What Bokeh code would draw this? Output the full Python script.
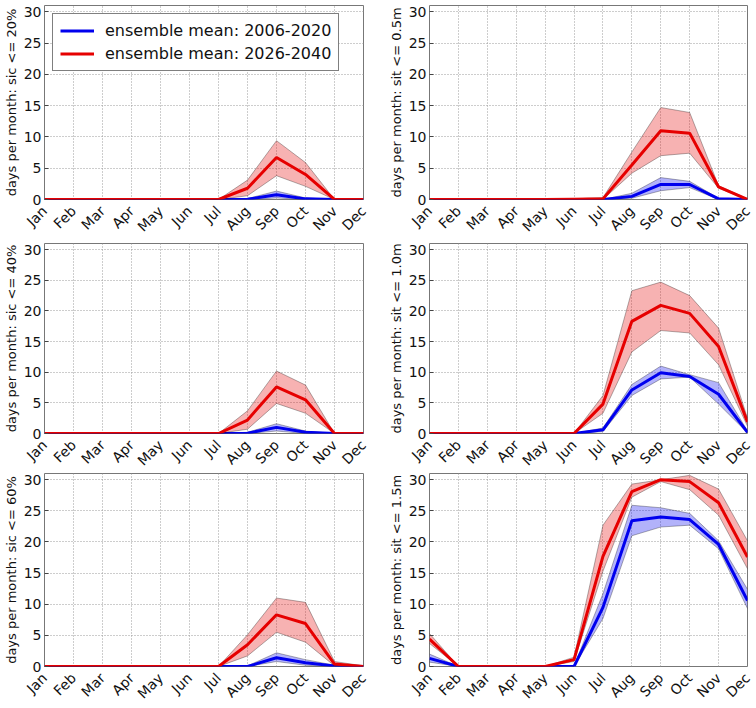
import math
from bokeh.plotting import figure
from bokeh.layouts import column, row
from bokeh.models import Legend, LegendItem, FixedTicker, Range1d
from bokeh.embed import file_html
from bokeh.resources import INLINE

months = ["Jan", "Feb", "Mar", "Apr", "May", "Jun", "Jul", "Aug", "Sep", "Oct", "Nov", "Dec"]
x = list(range(12))
yticks = [0, 5, 10, 15, 20, 25, 30]
label_early = "ensemble mean: 2006-2020"
label_late = "ensemble mean: 2026-2040"

# sic <= 20%
sic20_early_mean = [0, 0, 0, 0, 0, 0, 0, 0.05, 0.75, 0.1, 0, 0]
sic20_early_lo = [0, 0, 0, 0, 0, 0, 0, 0, 0.25, 0, 0, 0]
sic20_early_hi = [0, 0, 0, 0, 0, 0, 0, 0.15, 1.35, 0.25, 0, 0]
sic20_late_mean = [0, 0, 0, 0, 0, 0, 0, 1.8, 6.7, 4.0, 0, 0]
sic20_late_lo = [0, 0, 0, 0, 0, 0, 0, 0.6, 3.8, 2.1, 0, 0]
sic20_late_hi = [0, 0, 0, 0, 0, 0, 0, 3.1, 9.4, 5.9, 0, 0]

# sit <= 0.5m
sit05_early_mean = [0, 0, 0, 0, 0, 0, 0, 0.5, 2.4, 2.4, 0.1, 0]
sit05_early_lo = [0, 0, 0, 0, 0, 0, 0, 0.2, 1.4, 1.9, 0, 0]
sit05_early_hi = [0, 0, 0, 0, 0, 0, 0, 1.0, 3.5, 2.9, 0.2, 0]
sit05_late_mean = [0, 0, 0, 0, 0, 0.05, 0.1, 5.5, 11.0, 10.6, 2.0, 0]
sit05_late_lo = [0, 0, 0, 0, 0, 0, 0, 4.2, 7.0, 7.4, 1.8, 0]
sit05_late_hi = [0, 0, 0, 0, 0, 0.1, 0.3, 7.6, 14.7, 13.9, 2.2, 0.1]

# sic <= 40%
sic40_early_mean = [0, 0, 0, 0, 0, 0, 0, 0.05, 1.0, 0.2, 0, 0]
sic40_early_lo = [0, 0, 0, 0, 0, 0, 0, 0, 0.4, 0, 0, 0]
sic40_early_hi = [0, 0, 0, 0, 0, 0, 0, 0.2, 1.6, 0.4, 0, 0]
sic40_late_mean = [0, 0, 0, 0, 0, 0, 0, 2.2, 7.6, 5.5, 0, 0]
sic40_late_lo = [0, 0, 0, 0, 0, 0, 0, 0.7, 4.9, 3.3, 0, 0]
sic40_late_hi = [0, 0, 0, 0, 0, 0, 0, 3.7, 10.2, 7.9, 0, 0]

# sit <= 1.0m
sit10_early_mean = [0, 0, 0, 0, 0, 0, 0.6, 7.1, 9.9, 9.3, 6.4, 0.2]
sit10_early_lo = [0, 0, 0, 0, 0, 0, 0.3, 6.2, 8.9, 9.2, 4.8, 0.1]
sit10_early_hi = [0, 0, 0, 0, 0, 0, 0.9, 8.0, 11.0, 9.6, 8.3, 0.4]
sit10_late_mean = [0, 0, 0, 0, 0, 0, 4.8, 18.3, 20.9, 19.6, 14.2, 1.9]
sit10_late_lo = [0, 0, 0, 0, 0, 0, 3.3, 13.3, 16.8, 16.4, 11.2, 1.2]
sit10_late_hi = [0, 0, 0, 0, 0, 0, 6.2, 23.3, 24.7, 22.5, 17.2, 2.5]

# sic <= 60%
sic60_early_mean = [0, 0, 0, 0, 0, 0, 0, 0, 1.4, 0.6, 0.1, 0]
sic60_early_lo = [0, 0, 0, 0, 0, 0, 0, 0, 0.8, 0.2, 0, 0]
sic60_early_hi = [0, 0, 0, 0, 0, 0, 0, 0.1, 2.2, 1.1, 0.2, 0]
sic60_late_mean = [0, 0, 0, 0, 0, 0, 0, 3.5, 8.3, 6.9, 0.4, 0]
sic60_late_lo = [0, 0, 0, 0, 0, 0, 0, 1.7, 5.5, 3.9, 0.1, 0]
sic60_late_hi = [0, 0, 0, 0, 0, 0, 0, 5.1, 11.0, 10.3, 0.8, 0.1]

# sit <= 1.5m
sit15_early_mean = [1.3, 0, 0, 0, 0, 0, 9.5, 23.4, 24.0, 23.6, 19.6, 10.6]
sit15_early_lo = [0.7, 0, 0, 0, 0, 0, 7.7, 21.0, 22.4, 22.7, 18.9, 9.3]
sit15_early_hi = [2.0, 0, 0, 0, 0, 0.1, 11.7, 25.9, 25.5, 24.6, 20.2, 12.4]
sit15_late_mean = [4.4, 0, 0, 0, 0, 1.1, 17.7, 28.1, 30.0, 29.7, 26.3, 17.6]
sit15_late_lo = [3.7, 0, 0, 0, 0, 0.8, 15.3, 27.2, 29.7, 28.4, 24.3, 15.7]
sit15_late_hi = [5.3, 0, 0, 0, 0, 1.5, 22.7, 29.3, 30.0, 30.7, 28.5, 20.2]

BLUE = "#0000ee"
RED = "#e60000"
FONT = "DejaVu Sans"


def make_panel(ylabel, early, late, left_col, frame_h, top, legend=False, margin=None):
    if left_col:
        bl, fw, br = 39, 319, 22
    else:
        bl, fw, br = 41, 318, 9
    p = figure(frame_width=fw, frame_height=frame_h, output_backend="svg",
               toolbar_location=None, x_range=Range1d(0, 11), y_range=Range1d(0, 31),
               min_border_left=bl, min_border_right=br, min_border_top=top,
               min_border_bottom=50, background_fill_color="white",
               border_fill_color="white")
    if margin is not None:
        p.margin = margin
    xax = p.xaxis[0]
    p.outline_line_color = "#777777"
    p.outline_line_width = 1
    xax.ticker = FixedTicker(ticks=x)
    xax.major_label_overrides = {i: m for i, m in enumerate(months)}
    xax.major_label_orientation = math.pi / 4
    xax.major_label_text_align = "right"
    xax.major_label_text_baseline = "top"
    xax.major_tick_line_color = None
    xax.major_label_standoff = 3
    p.yaxis.ticker = FixedTicker(ticks=yticks)
    p.yaxis.major_tick_in = 4
    p.yaxis.major_tick_out = 0
    p.yaxis.major_tick_line_color = "#444444"
    p.yaxis.major_label_standoff = 3
    for ax in (xax, p.yaxis[0]):
        ax.axis_line_color = None
        ax.minor_tick_line_color = None
        ax.major_label_text_font = FONT
        ax.major_label_text_font_size = "14px"
        ax.major_label_text_color = "#111111"
    p.yaxis.axis_label = ylabel
    p.yaxis.axis_label_text_font = FONT
    p.yaxis.axis_label_text_font_size = "13px"
    p.yaxis.axis_label_text_font_style = "normal"
    p.yaxis.axis_label_text_color = "#111111"
    p.yaxis.axis_label_standoff = 2
    for g in (p.xgrid, p.ygrid):
        g.grid_line_color = "#9a9a9a"
        g.grid_line_dash = "1 2"
        g.grid_line_width = 1
    rends = []
    for (mean, lo, hi), col in ((early, BLUE), (late, RED)):
        p.varea(x=x, y1=lo, y2=hi, fill_color=col, fill_alpha=0.3)
        p.line(x=x, y=hi, line_color="black", line_alpha=0.3, line_width=1)
        p.line(x=x, y=lo, line_color="black", line_alpha=0.3, line_width=1)
        r = p.line(x=x, y=mean, line_color=col, line_width=3)
        rends.append(r)
    if legend:
        lg = Legend(items=[LegendItem(label=label_early, renderers=[rends[0]]),
                           LegendItem(label=label_late, renderers=[rends[1]])],
                    location="top_left", margin=8, padding=7, spacing=4,
                    glyph_width=34, glyph_height=19, label_height=19,
                    label_standoff=11, label_text_font=FONT,
                    label_text_font_size="16px", label_text_color="#111111",
                    border_line_color="black", border_line_width=1,
                    background_fill_color="white", background_fill_alpha=1)
        p.add_layout(lg, "center")
    return p


mid_margin = (-9, 0, 0, 0)
low_margin = (-13, 0, -24, 0)

p1 = make_panel("days per month: sic <= 20%",
                (sic20_early_mean, sic20_early_lo, sic20_early_hi),
                (sic20_late_mean, sic20_late_lo, sic20_late_hi), True, 194, 5, legend=True)
p2 = make_panel("days per month: sit <= 0.5m",
                (sit05_early_mean, sit05_early_lo, sit05_early_hi),
                (sit05_late_mean, sit05_late_lo, sit05_late_hi), False, 194, 5)
p3 = make_panel("days per month: sic <= 40%",
                (sic40_early_mean, sic40_early_lo, sic40_early_hi),
                (sic40_late_mean, sic40_late_lo, sic40_late_hi), True, 190, 3, margin=mid_margin)
p4 = make_panel("days per month: sit <= 1.0m",
                (sit10_early_mean, sit10_early_lo, sit10_early_hi),
                (sit10_late_mean, sit10_late_lo, sit10_late_hi), False, 190, 3, margin=mid_margin)
p5 = make_panel("days per month: sic <= 60%",
                (sic60_early_mean, sic60_early_lo, sic60_early_hi),
                (sic60_late_mean, sic60_late_lo, sic60_late_hi), True, 193, 3, margin=low_margin)
p6 = make_panel("days per month: sit <= 1.5m",
                (sit15_early_mean, sit15_early_lo, sit15_early_hi),
                (sit15_late_mean, sit15_late_lo, sit15_late_hi), False, 193, 3, margin=low_margin)

layout = column(row(p1, p2), row(p3, p4), row(p5, p6))

open("out.html", "w").write(file_html(layout, INLINE))
